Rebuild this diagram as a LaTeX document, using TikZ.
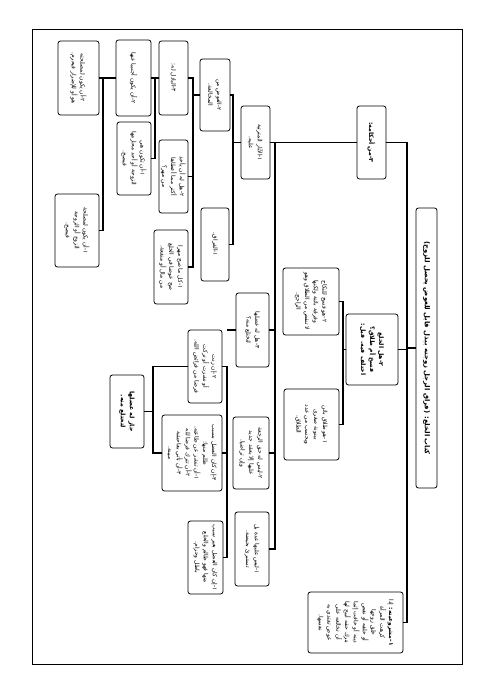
\documentclass[tikz,border=0pt]{standalone}
\usepackage{fontspec}
\newfontfamily\arabicfont[Script=Arabic]{DejaVu Sans}
\TeXXeTstate=1
\newcommand{\AR}[1]{\beginR #1\endR}
\begin{document}
\begin{tikzpicture}[x=1pt,y=-1pt,
  box/.style={draw, rounded corners=2.5pt, line width=0.8pt, rotate=-90, inner sep=1pt,
    align=center, font=\arabicfont\fontsize{5.9}{8.8}\selectfont},
  bbox/.style={box, font=\arabicfont\bfseries\fontsize{6.2}{9}\selectfont},
  conn/.style={line width=1.6pt}]
\useasboundingbox (0,0) rectangle (491,694);
\draw[line width=1pt] (32,29) rectangle (462,664);
% bus coordinates
\coordinate (b1) at (407,0);
\coordinate (b2) at (275,0);
\coordinate (b3) at (343,0);
\coordinate (b4) at (233,0);
\coordinate (b5) at (193,0);
\coordinate (b6) at (155,0);
\coordinate (b7) at (103,0);
\coordinate (b8) at (227,0);
\coordinate (b9) at (153,0);
% root
\node[bbox, font=\arabicfont\bfseries\fontsize{6.8}{9}\selectfont, minimum width=280pt, minimum height=21pt] (root) at (426.5,348)
 {\AR{كتاب الخلع: (فراق الرجل زوجته ببذل قابل للعوض يحصل للزوج)}};
% level 1
\node[bbox, minimum width=73pt, minimum height=29pt] (Q) at (371.5,142.5) {\AR{٣-من أحكامه:}};
\node[bbox, minimum width=71pt, minimum height=52pt] (B2) at (372,349.5)
 {\AR{٢-هل الخلع}\\\AR{فسخ أم طلاق؟}\\\AR{اختلف فيه. قيل:}};
\node[box, minimum width=61pt, minimum height=95pt] (T) at (355.5,622.5)
 {\AR{\textbf{١-مشروعيته:} إذا}\\\AR{كرهت المرأة}\\\AR{خلق زوجها}\\\AR{أو خلقه أو نقص}\\\AR{دينه أو خافت إثما}\\\AR{بترك حقه أبيح لها}\\\AR{أن تخالعه على}\\\AR{عوض تفتدي به}\\\AR{نفسها.}};
% under B2
\node[box, minimum width=67pt, minimum height=56pt] (O) at (311,301.5)
 {\AR{٢-هو فسخ للنكاح}\\\AR{وفرقة بائنة ولكنها}\\\AR{لا تنقص من الطلاق وهو}\\\AR{الراجح.}};
\node[box, minimum width=71pt, minimum height=55pt] (P) at (311.5,424.5)
 {\AR{١-هو طلاق بائن}\\\AR{بينونة صغرى}\\\AR{ويحسب من عدد}\\\AR{الطلاق.}};
% under Q
\node[box, minimum width=73pt, minimum height=29pt] (R) at (255.5,142.5)
 {\AR{١-الآثار المترتبة}\\\AR{عليه.}};
\node[box, minimum width=74pt, minimum height=33pt] (HM) at (252.5,330)
 {\AR{٣-هل له عضلها}\\\AR{لتختلع منه؟}};
\node[box, minimum width=72pt, minimum height=36pt] (M) at (251,453)
 {\AR{٢-ليس له حق الرجعة}\\\AR{عليها إلا بعقد جديد}\\\AR{وإن تراضيا.}};
\node[box, minimum width=74pt, minimum height=34pt] (N) at (252,549)
 {\AR{١-ليس عليها عدة بل}\\\AR{تستبرئ بحيضة.}};
% under R
\node[box, minimum width=72pt, minimum height=30pt] (S) at (215,95)
 {\AR{٢-العوض من}\\\AR{المخالعة.}};
\node[box, minimum width=73pt, minimum height=28pt] (H) at (215,244.5)
 {\AR{١-الفراق.}};
% under S
\node[box, minimum width=74pt, minimum height=29pt] (D) at (173.5,78) {\AR{٣-الباذل له:}};
\node[box, minimum width=73pt, minimum height=29pt] (F) at (173.5,176.5)
 {\AR{٢-هل له أن يأخذ}\\\AR{أكثر مما أعطاها}\\\AR{من مهر؟}};
\node[box, minimum width=74pt, minimum height=34pt] (G) at (171,267)
 {\AR{١-كل ما صح مهرا}\\\AR{صح عوضا في الخلع}\\\AR{من مال أو منفعة.}};
% under D
\node[box, minimum width=76pt, minimum height=35pt] (B) at (133.5,78)
 {\AR{٢-أن يكون أجنبيا عنها}};
\node[box, minimum width=73pt, minimum height=34pt] (C) at (134,158.5)
 {\AR{١-أن تكون هي}\\\AR{الزوجة أو أحد محارمها}\\\AR{فيصح.}};
% under B
\node[box, minimum width=74pt, minimum height=41pt] (A) at (78.5,78)
 {\AR{٢-أن يكون لمصلحته}\\\AR{هو أو للإضرار فيحرم.}};
\node[box, minimum width=73pt, minimum height=44pt] (E) at (77,230.5)
 {\AR{١-أن يكون لمصلحة}\\\AR{الزوج أو الزوجة}\\\AR{فيصح.}};
% under HM
\node[box, minimum width=73pt, minimum height=34pt] (J) at (205,366.5)
 {\AR{٢-إن زنت}\\\AR{أو نشزت أو تركت}\\\AR{فرضا من فرائض الله.}};
\node[box, minimum width=76pt, minimum height=60pt] (K) at (192,453)
 {\AR{٣-إن كان العضل بسبب}\\\AR{ظلم منها:}\\\AR{١-أن تنشز عن طاعته.}\\\AR{٢-أن تترك فرضا لله}\\\AR{٣-أن تأتي بفاحشة}\\\AR{مبينة.}};
\node[box, minimum width=73pt, minimum height=35pt] (L) at (205.5,557.5)
 {\AR{١-إن كان العضل بغير سبب}\\\AR{منها فهو ظالم والخلع}\\\AR{باطل وحرام.}};
\node[bbox, minimum width=73pt, minimum height=34pt] (I) at (127,411.5)
 {\AR{جاز له عضلها}\\\AR{لتختلع منه.}};
% connectors
\draw[conn] (Q.north) -- (Q.north -| b1) -- (T.north -| b1) -- (T.north);
\draw[conn] (B2.north) -- (B2.north -| b1);
\draw[conn] (root.south) -- (root.south -| b1);
\draw[conn] (Q.south) -- (R.north);
\draw[conn] (R.north -| b2) -- (N.north -| b2) -- (N.north);
\draw[conn] (HM.north) -- (HM.north -| b2);
\draw[conn] (M.north) -- (M.north -| b2);
\draw[conn] (O.north) -- (O.north -| b3) -- (P.north -| b3) -- (P.north);
\draw[conn] (B2.south) -- (B2.south -| b3);
\draw[conn] (S.north) -- (S.north -| b4) -- (H.north -| b4) -- (H.north);
\draw[conn] (R.south) -- (R.south -| b4);
\draw[conn] (D.north) -- (D.north -| b5) -- (G.north -| b5) -- (G.north);
\draw[conn] (F.north) -- (F.north -| b5);
\draw[conn] (S.south) -- (S.south -| b5);
\draw[conn] (B.north) -- (B.north -| b6) -- (C.north -| b6) -- (C.north);
\draw[conn] (D.south) -- (D.south -| b6);
\draw[conn] (A.north) -- (A.north -| b7) -- (E.north -| b7) -- (E.north);
\draw[conn] (B.south) -- (B.south -| b7);
\draw[conn] (J.north) -- (J.north -| b8) -- (L.north -| b8) -- (L.north);
\draw[conn] (K.north) -- (K.north -| b8);
\draw[conn] (HM.south) -- (HM.south -| b8);
\draw[conn] (J.south) -- (J.south -| b9) -- (K.south -| b9) -- (K.south);
\draw[conn] (I.north) -- (I.north -| b9);
\end{tikzpicture}
\end{document}
